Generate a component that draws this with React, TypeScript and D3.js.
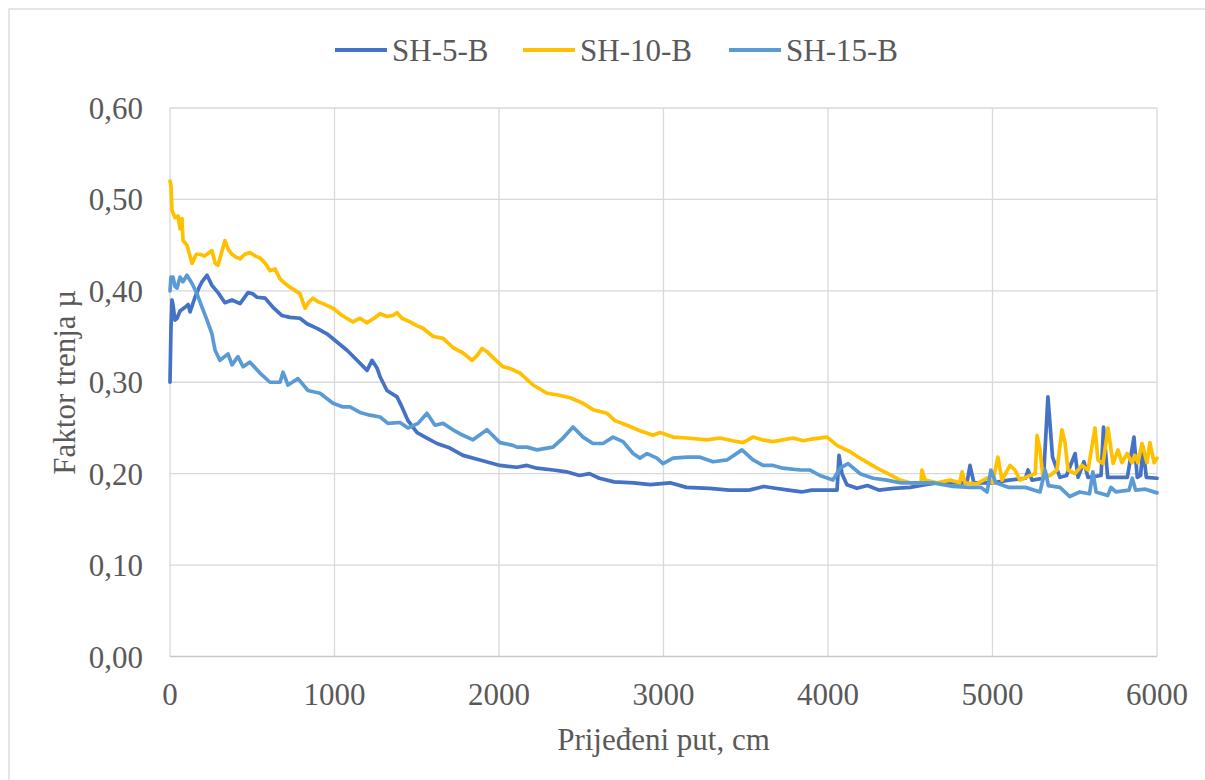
import React from "react";
import * as d3 from "d3";

type Pt = [number, number];

const seriesNames = ["SH-5-B", "SH-10-B", "SH-15-B"];
const seriesColors = ["#4472C4", "#FFC000", "#5B9BD5"];

const sh5B: Pt[] = [
  [0, 0.30], [6, 0.36], [12, 0.39], [18, 0.385], [30, 0.368], [43, 0.37], [61, 0.378], [91, 0.382],
  [110, 0.385], [122, 0.377], [152, 0.393], [180, 0.405], [195, 0.41], [225, 0.417], [255, 0.406],
  [292, 0.398], [334, 0.387], [377, 0.39], [426, 0.386], [474, 0.398], [500, 0.397], [529, 0.393],
  [578, 0.392], [626, 0.382], [681, 0.373], [729, 0.371], [790, 0.37], [833, 0.364], [894, 0.359],
  [954, 0.353], [1015, 0.344], [1076, 0.335], [1137, 0.324], [1198, 0.313], [1228, 0.324],
  [1260, 0.315], [1277, 0.306], [1319, 0.291], [1380, 0.284], [1410, 0.273], [1447, 0.258],
  [1502, 0.245], [1562, 0.239], [1623, 0.233], [1702, 0.228], [1781, 0.22], [1884, 0.215],
  [2006, 0.209], [2109, 0.207], [2170, 0.209], [2230, 0.206], [2330, 0.204], [2410, 0.202],
  [2490, 0.198], [2550, 0.2], [2610, 0.195], [2700, 0.191], [2820, 0.19], [2920, 0.188],
  [3040, 0.19], [3140, 0.185], [3280, 0.184], [3400, 0.182], [3520, 0.182], [3610, 0.186],
  [3680, 0.184], [3760, 0.182], [3840, 0.18], [3900, 0.182], [4055, 0.182], [4067, 0.22],
  [4085, 0.2], [4115, 0.188], [4176, 0.184], [4240, 0.187], [4310, 0.182], [4400, 0.184],
  [4500, 0.185], [4590, 0.188], [4663, 0.19], [4800, 0.19], [4845, 0.19], [4863, 0.209],
  [4887, 0.19], [5000, 0.19], [5100, 0.193], [5200, 0.195], [5216, 0.204], [5240, 0.193],
  [5310, 0.195], [5337, 0.284], [5365, 0.218], [5410, 0.196], [5450, 0.198], [5502, 0.222],
  [5520, 0.196], [5556, 0.213], [5580, 0.196], [5660, 0.198], [5675, 0.251], [5700, 0.196],
  [5820, 0.196], [5860, 0.24], [5880, 0.196], [5900, 0.198], [5915, 0.229], [5935, 0.196],
  [6000, 0.195],
];

const sh10B: Pt[] = [
  [0, 0.52], [6, 0.515], [12, 0.488], [30, 0.48], [49, 0.482], [61, 0.468], [73, 0.479],
  [79, 0.455], [103, 0.45], [134, 0.43], [160, 0.44], [182, 0.44], [210, 0.438], [255, 0.444],
  [275, 0.43], [292, 0.428], [334, 0.455], [355, 0.445], [377, 0.44], [400, 0.437], [426, 0.435],
  [455, 0.44], [486, 0.442], [520, 0.438], [547, 0.436], [580, 0.43], [608, 0.422], [638, 0.424],
  [669, 0.413], [700, 0.408], [729, 0.404], [790, 0.397], [821, 0.381], [845, 0.388], [869, 0.392],
  [900, 0.388], [930, 0.386], [991, 0.381], [1046, 0.373], [1112, 0.366], [1155, 0.37],
  [1198, 0.365], [1240, 0.37], [1277, 0.375], [1320, 0.372], [1356, 0.373], [1380, 0.376],
  [1410, 0.37], [1459, 0.366], [1500, 0.362], [1538, 0.359], [1600, 0.35], [1660, 0.348],
  [1720, 0.338], [1781, 0.332], [1836, 0.324], [1870, 0.33], [1897, 0.337], [1930, 0.333],
  [1964, 0.327], [2024, 0.317], [2067, 0.315], [2128, 0.31], [2207, 0.297], [2292, 0.288],
  [2359, 0.286], [2432, 0.283], [2511, 0.277], [2571, 0.27], [2657, 0.266], [2705, 0.258],
  [2778, 0.253], [2857, 0.247], [2936, 0.242], [2979, 0.245], [3058, 0.24], [3143, 0.239],
  [3264, 0.237], [3343, 0.239], [3420, 0.236], [3483, 0.234], [3544, 0.24], [3600, 0.237],
  [3666, 0.235], [3787, 0.239], [3850, 0.236], [3909, 0.238], [3994, 0.24], [4055, 0.231],
  [4134, 0.224], [4213, 0.215], [4298, 0.206], [4377, 0.199], [4438, 0.193], [4500, 0.19],
  [4541, 0.19], [4565, 0.19], [4571, 0.204], [4590, 0.193], [4663, 0.19], [4742, 0.193],
  [4800, 0.19], [4815, 0.202], [4833, 0.19], [4906, 0.189], [4967, 0.195], [5000, 0.19],
  [5033, 0.218], [5058, 0.193], [5106, 0.209], [5137, 0.204], [5167, 0.193], [5228, 0.198],
  [5260, 0.2], [5271, 0.242], [5289, 0.226], [5307, 0.196], [5350, 0.198], [5392, 0.204],
  [5422, 0.248], [5441, 0.234], [5459, 0.204], [5502, 0.2], [5544, 0.209], [5581, 0.204],
  [5623, 0.25], [5641, 0.215], [5672, 0.211], [5702, 0.25], [5733, 0.211], [5763, 0.226],
  [5787, 0.212], [5818, 0.222], [5848, 0.212], [5866, 0.22], [5884, 0.212], [5909, 0.233],
  [5939, 0.212], [5957, 0.234], [5982, 0.212], [6000, 0.217],
];

const sh15B: Pt[] = [
  [0, 0.40], [6, 0.415], [18, 0.415], [30, 0.405], [43, 0.403], [61, 0.415], [79, 0.41],
  [103, 0.417], [134, 0.408], [164, 0.397], [195, 0.382], [225, 0.368], [255, 0.353],
  [274, 0.335], [304, 0.324], [353, 0.331], [377, 0.319], [413, 0.328], [444, 0.317],
  [486, 0.322], [547, 0.31], [608, 0.3], [669, 0.3], [687, 0.311], [717, 0.297], [778, 0.304],
  [839, 0.291], [912, 0.288], [991, 0.277], [1052, 0.273], [1094, 0.273], [1155, 0.267],
  [1216, 0.264], [1277, 0.262], [1325, 0.255], [1398, 0.256], [1447, 0.25], [1508, 0.255],
  [1562, 0.266], [1611, 0.253], [1660, 0.255], [1720, 0.248], [1781, 0.242], [1842, 0.237],
  [1927, 0.248], [2006, 0.234], [2085, 0.231], [2109, 0.229], [2170, 0.229], [2231, 0.226],
  [2328, 0.229], [2389, 0.239], [2450, 0.251], [2511, 0.24], [2571, 0.233], [2632, 0.233],
  [2693, 0.24], [2754, 0.235], [2815, 0.222], [2857, 0.217], [2900, 0.222], [2960, 0.217],
  [2997, 0.211], [3058, 0.217], [3143, 0.218], [3222, 0.218], [3301, 0.213], [3386, 0.215],
  [3477, 0.226], [3544, 0.215], [3605, 0.209], [3666, 0.209], [3726, 0.206], [3830, 0.204],
  [3891, 0.204], [3951, 0.198], [4030, 0.193], [4073, 0.206], [4122, 0.211], [4195, 0.2],
  [4274, 0.195], [4359, 0.193], [4438, 0.19], [4541, 0.19], [4640, 0.19], [4760, 0.186],
  [4860, 0.185], [4930, 0.185], [4967, 0.18], [4990, 0.204], [5020, 0.19], [5100, 0.185],
  [5200, 0.185], [5289, 0.18], [5320, 0.204], [5340, 0.187], [5410, 0.185], [5470, 0.175],
  [5530, 0.18], [5590, 0.178], [5610, 0.202], [5630, 0.18], [5700, 0.176], [5720, 0.185],
  [5750, 0.18], [5830, 0.182], [5850, 0.195], [5870, 0.182], [5930, 0.183], [6000, 0.179],
];

const seriesData: Pt[][] = [sh5B, sh10B, sh15B];

const xTicks = [0, 1000, 2000, 3000, 4000, 5000, 6000];
const yTicks = [0, 0.1, 0.2, 0.3, 0.4, 0.5, 0.6];
const xTitle = "Prijeđeni put, cm";
const yTitle = "Faktor trenja µ";

const FONT = "'Liberation Serif', 'Times New Roman', serif";
const TEXT = "#595959";

export default function App() {
  const left = 170, right = 1157, top = 108, bottom = 656.5;
  const x = d3.scaleLinear().domain([0, 6000]).range([left, right]);
  const y = d3.scaleLinear().domain([0, 0.6]).range([bottom, top]);
  const line = d3.line<Pt>().x((d) => x(d[0])).y((d) => y(d[1]));
  const fmt = (v: number) => v.toFixed(2).replace(".", ",");
  const legendX = [335, 523, 729];

  return (
    <svg width={1205} height={780} style={{ position: "absolute", left: 0, top: 0, background: "#fff" }}>
      <rect x={9} y={9} width={1210} height={800} fill="#fff" stroke="#d9d9d9" strokeWidth={1.3} />
      {xTicks.map((t) => (
        <line key={"gx" + t} x1={x(t)} x2={x(t)} y1={top} y2={bottom} stroke="#d9d9d9" strokeWidth={1.3} />
      ))}
      {yTicks.map((t) => (
        <line key={"gy" + t} x1={left} x2={right} y1={y(t)} y2={y(t)} stroke={t === 0 ? "#c8c8c8" : "#d9d9d9"} strokeWidth={1.3} />
      ))}
      {yTicks.map((t) => (
        <text key={"ty" + t} x={143} y={y(t) + 11} textAnchor="end" fontFamily={FONT} fontSize={31} fill={TEXT}>
          {fmt(t)}
        </text>
      ))}
      {xTicks.map((t) => (
        <text key={"tx" + t} x={x(t)} y={705} textAnchor="middle" fontFamily={FONT} fontSize={31} fill={TEXT}>
          {t}
        </text>
      ))}
      {seriesData.map((s, i) => (
        <path key={"s" + i} d={line(s) || ""} fill="none" stroke={seriesColors[i]} strokeWidth={3.7} strokeLinejoin="round" strokeLinecap="round" />
      ))}
      <text x={(left + right) / 2} y={750} textAnchor="middle" fontFamily={FONT} fontSize={31} fill={TEXT}>
        {xTitle}
      </text>
      <text transform={`translate(75, ${(top + bottom) / 2}) rotate(-90)`} textAnchor="middle" fontFamily={FONT} fontSize={31} fill={TEXT}>
        {yTitle}
      </text>
      {seriesNames.map((n, i) => (
        <g key={"l" + i}>
          <line x1={legendX[i]} x2={legendX[i] + 52} y1={50} y2={50} stroke={seriesColors[i]} strokeWidth={4} />
          <text x={legendX[i] + 57} y={61} fontFamily={FONT} fontSize={31} fill={TEXT}>
            {n}
          </text>
        </g>
      ))}
    </svg>
  );
}
